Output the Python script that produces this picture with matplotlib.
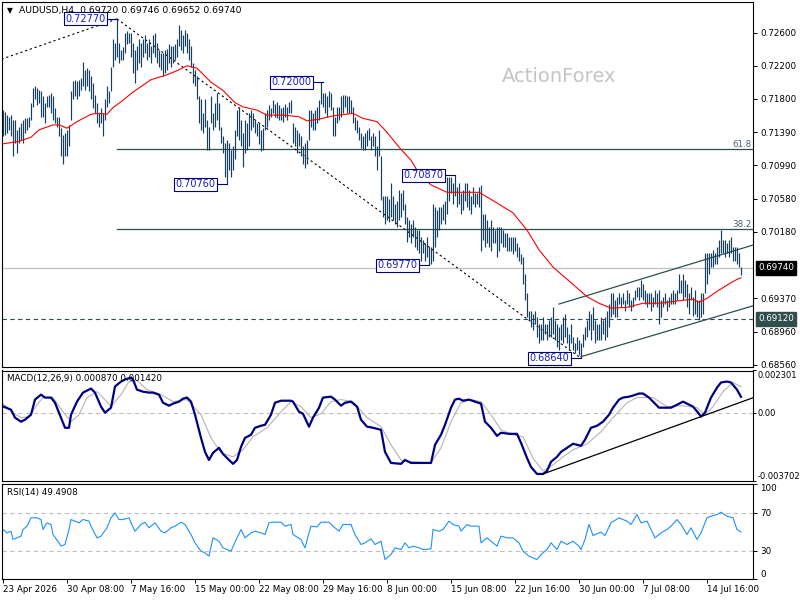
import matplotlib
matplotlib.use("Agg")
import matplotlib.pyplot as plt
import matplotlib.transforms as mtransforms
import numpy as np

plt.rcParams["font.family"] = ["DejaVu Sans"]
plt.rcParams["axes.unicode_minus"] = False

SYMBOL = "AUDUSD,H4"
LAST_OHLC = "0.69720 0.69746 0.69652 0.69740"

# H4 bar highs / lows, in price points (1 point = 0.0001)
BAR_HIGH = [
    7166, 7164, 7160, 7158, 7160, 7154, 7154, 7142, 7146, 7150, 7154, 7156, 7156, 7158, 7175, 7193,
    7195, 7193, 7191, 7189, 7183, 7175, 7183, 7185, 7187, 7183, 7168, 7158, 7158, 7144, 7136, 7138,
    7142, 7148, 7189, 7201, 7203, 7201, 7203, 7205, 7225, 7215, 7217, 7215, 7207, 7199, 7185, 7175,
    7162, 7168, 7162, 7179, 7195, 7189, 7219, 7252, 7248, 7277, 7248, 7239, 7243, 7260, 7262, 7260,
    7260, 7248, 7239, 7244, 7252, 7248, 7252, 7258, 7248, 7252, 7244, 7258, 7260, 7248, 7239, 7235,
    7235, 7239, 7241, 7246, 7244, 7244, 7246, 7252, 7270, 7264, 7258, 7264, 7260, 7252, 7244, 7223,
    7215, 7207, 7183, 7179, 7162, 7179, 7154, 7146, 7183, 7162, 7175, 7187, 7175, 7146, 7134, 7126,
    7130, 7126, 7118, 7122, 7142, 7166, 7170, 7154, 7138, 7154, 7150, 7162, 7166, 7162, 7154, 7150,
    7150,
    7142, 7144, 7162, 7166, 7172, 7168, 7178, 7174, 7176, 7172, 7168, 7170, 7174, 7170, 7176, 7178,
    7150, 7146, 7142, 7138, 7134, 7122, 7126, 7130, 7166, 7166, 7162, 7166, 7170, 7178, 7200, 7187,
    7187, 7183, 7189, 7187, 7170, 7158, 7170, 7170, 7183, 7185, 7185, 7183, 7183, 7178, 7170, 7158,
    7154, 7146, 7138, 7134, 7138, 7142, 7144, 7134, 7138, 7134, 7122, 7142, 7110, 7061, 7061, 7061,
    7058,
    7077, 7061, 7052, 7056, 7069, 7065, 7069, 7052, 7036, 7032, 7028, 7032, 7024, 7020, 7020, 7012,
    7008, 7004, 7012, 7000, 7000, 7052, 7048, 7044, 7048, 7048, 7052, 7056, 7085, 7085, 7085, 7077,
    7087, 7073, 7077, 7065, 7069, 7077, 7077, 7069, 7061, 7073, 7065, 7065, 7073, 7075,
    7040, 7040, 7032, 7024, 7032, 7024, 7020, 7024, 7024, 7024, 7020, 7016, 7016, 7012, 7012, 7012,
    7012, 7004, 6999, 6991, 6987, 6967, 6943, 6922, 6922, 6918, 6922, 6914, 6906, 6906, 6914, 6906,
    6906, 6910, 6914, 6926, 6910, 6906, 6902, 6906, 6914, 6918, 6902, 6894, 6906, 6890, 6882, 6890,
    6886, 6882, 6894, 6902, 6910, 6922, 6918, 6926, 6910, 6906, 6906, 6914, 6910, 6914, 6922, 6930,
    6943, 6943, 6935, 6939, 6943, 6939, 6943, 6935, 6947, 6943, 6935, 6939, 6947, 6951, 6951, 6959,
    6955, 6947, 6943, 6943, 6943, 6939, 6947, 6943, 6947, 6935, 6939, 6943, 6935, 6939, 6943, 6947,
    6943, 6947, 6967, 6959,
    6967, 6959, 6955, 6943, 6951, 6939, 6947, 6935, 6935, 6943, 6943, 6992, 6992, 6992, 6992, 6996,
    6992, 7000, 7008, 7020, 7008, 7008, 7004, 7008, 7012, 7000, 7000, 7000, 6992, 6975,
]
BAR_LOW = [
    7134, 7136, 7138, 7142, 7134, 7110, 7126, 7114, 7126, 7130, 7126, 7138, 7142, 7146, 7154, 7170,
    7179, 7172, 7175, 7158, 7158, 7150, 7170, 7170, 7162, 7154, 7150, 7146, 7134, 7110, 7101, 7110,
    7110, 7122, 7154, 7179, 7183, 7179, 7183, 7191, 7195, 7191, 7195, 7189, 7179, 7168, 7162, 7150,
    7146, 7150, 7134, 7154, 7170, 7175, 7189, 7219, 7227, 7231, 7223, 7227, 7227, 7235, 7246, 7248,
    7231, 7211, 7199, 7215, 7223, 7219, 7231, 7235, 7227, 7231, 7223, 7235, 7231, 7223, 7219, 7215,
    7207, 7211, 7215, 7223, 7219, 7223, 7227, 7231, 7244, 7239, 7235, 7244, 7235, 7227, 7219, 7199,
    7195, 7179, 7150, 7142, 7138, 7146, 7118, 7118, 7150, 7142, 7146, 7154, 7142, 7126, 7114, 7085,
    7076, 7093, 7085, 7093, 7106, 7134, 7130, 7122, 7097, 7114, 7118, 7122, 7142, 7146, 7138, 7134,
    7125,
    7116, 7118, 7142, 7146, 7154, 7158, 7162, 7158, 7156, 7154, 7154, 7152, 7158, 7154, 7162, 7162,
    7126, 7122, 7114, 7122, 7110, 7101, 7095, 7101, 7130, 7146, 7142, 7142, 7150, 7154, 7174, 7170,
    7162, 7158, 7170, 7166, 7134, 7134, 7150, 7154, 7158, 7162, 7170, 7162, 7162, 7162, 7150, 7142,
    7138, 7130, 7120, 7118, 7118, 7122, 7130, 7118, 7122, 7110, 7093, 7110, 7057, 7036, 7028, 7032,
    7030,
    7036, 7032, 7028, 7024, 7032, 7036, 7044, 7028, 7006, 7012, 7004, 7012, 7000, 6996, 6992, 6983,
    6992, 6983, 6987, 6977, 6979, 6983, 7000, 7012, 7020, 7028, 7032, 7028, 7040, 7056, 7065, 7052,
    7061, 7048, 7052, 7040, 7044, 7056, 7048, 7044, 7040, 7052, 7048, 7052, 7048, 6994,
    7008, 6999, 7004, 6999, 6995, 7004, 7004, 6987, 6995, 7004, 6999, 6999, 6995, 6995, 6995, 6991,
    6995, 6987, 6983, 6979, 6955, 6935, 6914, 6910, 6902, 6898, 6906, 6890, 6882, 6886, 6886, 6894,
    6886, 6890, 6890, 6894, 6886, 6878, 6874, 6886, 6882, 6890, 6882, 6874, 6882, 6874, 6870, 6874,
    6868, 6864, 6878, 6886, 6890, 6898, 6886, 6898, 6882, 6886, 6886, 6886, 6894, 6886, 6890, 6902,
    6914, 6918, 6914, 6914, 6930, 6926, 6930, 6922, 6930, 6926, 6922, 6926, 6935, 6939, 6935, 6939,
    6935, 6930, 6926, 6930, 6922, 6926, 6930, 6926, 6906, 6914, 6926, 6930, 6922, 6926, 6930, 6930,
    6930, 6935, 6943, 6943,
    6935, 6939, 6927, 6918, 6935, 6916, 6918, 6914, 6910, 6914, 6918, 6943, 6955, 6967, 6975, 6975,
    6979, 6979, 6987, 6992, 6992, 6987, 6992, 6987, 6992, 6983, 6983, 6979, 6975, 6965,
]

# red moving average, read at bar positions (points)
MA_IDX = [0, 8, 14, 18, 25, 28, 32, 37, 44, 48, 52, 55, 60, 65, 74, 82, 87, 92, 97, 104,
          110, 116, 120, 127, 132, 140, 148, 152, 158, 165, 175, 180, 187, 192, 198, 204, 208, 214, 222, 238,
          247, 255, 262, 268, 275, 284, 292, 298, 304, 312, 320, 328, 338, 345, 348, 352, 358, 364, 367, 369]
MA_PTS = [7125, 7128, 7133, 7142, 7148, 7148, 7144, 7152, 7161, 7162, 7161, 7169, 7178, 7188, 7203, 7209, 7214, 7220, 7217, 7200,
          7190, 7175, 7170, 7166, 7160, 7160, 7158, 7153, 7155, 7159, 7162, 7156, 7152, 7139, 7121, 7105, 7089, 7075, 7066, 7066,
          7053, 7041, 7020, 6996, 6975, 6956, 6939, 6931, 6925, 6926, 6931, 6931, 6934, 6936, 6932, 6937, 6947, 6956, 6960, 6962]

# MACD main line, units of 1e-4
MACD_IDX = [0, 4, 6, 9, 11, 14, 16, 19, 21, 24, 26, 29, 31, 33, 34, 37, 40, 44, 46, 49, 51, 54, 56, 59, 61, 64, 65, 67,
            70, 73, 75, 78, 80, 83, 85, 88, 90, 92, 94, 96, 99, 101, 103, 105, 108, 110, 113, 115, 117, 119, 121, 124,
            126, 129, 131, 134, 136, 139, 144, 145, 148, 150, 153, 155, 158, 160, 164, 166, 169, 171, 174, 177, 179,
            182, 185, 189, 191, 194, 199, 201, 204, 209, 212, 214, 216, 219, 221, 224, 226, 228, 230, 233, 236, 239,
            241, 244, 247, 249, 253, 257, 259, 262, 264, 267, 270, 272, 274, 277, 279, 282, 285, 289, 291, 294, 297,
            300, 303, 305, 308, 310, 313, 315, 318, 320, 323, 325, 328, 330, 334, 337, 340, 342, 345, 348, 349, 351,
            354, 357, 359, 362, 364, 367, 369]
MACD_VAL = [3.5, 1.7, -2.6, -4.8, -3.7, -1.0, 7.2, 9.9, 8.3, 8.3, 5.5, -2.6, -8.1, -8.1, -1.0, 6.1, 11.0, 13.2, 11.0,
            3.4, 0.1, 2.8, 14.3, 17.0, 18.1, 19.2, 18.1, 12.6, 11.5, 11.0, 11.0, 9.9, 5.5, 3.9, 5.0, 6.1, 7.7, 8.3,
            6.1, -1.0, -13.6, -21.2, -25.6, -21.7, -19.0, -22.3, -25.6, -27.7, -25.6, -18.5, -13.6, -11.9, -8.1,
            -7.0, -6.5, -1.0, 5.5, 6.6, 6.6, 6.1, 0.6, -0.5, -7.5, -2.6, 2.8, 8.3, 8.8, 7.2, 3.9, 5.5, 6.1, 3.4,
            -3.7, -7.5, -8.1, -9.2, -21.2, -27.2, -27.7, -25.6, -27.2, -27.2, -27.2, -27.2, -17.4, -11.9, -6.5,
            2.8, 7.2, 7.7, 6.6, 7.2, 6.1, 5.0, -4.8, -8.1, -12.5, -10.8, -11.4, -11.4, -16.3, -24.5, -29.4, -33.2,
            -33.2, -31.6, -26.6, -23.9, -21.2, -19.0, -16.8, -17.9, -14.6, -8.1, -7.0, -4.8, -1.0, 2.8, 7.2, 8.3,
            8.8, 9.4, 10.5, 10.5, 8.3, 6.1, 2.8, 2.8, 2.8, 4.4, 6.1, 5.0, 3.4, -0.5, -2.1, 0.1, 8.3, 13.7, 16.5,
            17.0, 16.5, 12.6, 8.7]
SIGNAL_IDX = [0, 5, 9, 13, 17, 20, 25, 30, 34, 38, 42, 47, 50, 54, 59, 63, 67, 72, 79, 85, 92, 99, 104, 109, 115,
              120, 125, 132, 139, 144, 149, 154, 159, 164, 169, 175, 182, 189, 194, 199, 204, 214, 219, 224, 229,
              234, 239, 244, 249, 255, 260, 265, 270, 275, 280, 285, 292, 299, 305, 312, 317, 325, 332, 340, 347,
              351, 355, 360, 365, 369]
SIGNAL_VAL = [5.0, 0.1, -2.6, -2.1, 4.4, 8.3, 8.3, 0.6, -4.8, -1.0, 8.3, 11.5, 8.3, 3.4, 9.9, 17.0, 17.6, 12.6,
              9.9, 6.1, 7.2, -1.0, -13.6, -21.7, -23.9, -20.1, -13.0, -8.1, 0.6, 6.1, 3.4, -2.6, -0.5, 6.1, 7.2,
              6.1, -2.6, -7.5, -17.4, -25.6, -26.6, -27.2, -19.0, -4.8, 5.5, 7.2, 6.1, -1.0, -9.2, -11.9, -13.0,
              -24.5, -31.6, -28.3, -23.9, -20.1, -16.8, -10.3, -2.6, 5.5, 8.3, 8.3, 3.4, 3.9, 2.8, -1.0, 3.4,
              11.5, 16.5, 14.2]
MACD_MAX = 0.002301
MACD_MIN = -0.003702

RSI_IDX = [0, 2, 4, 5, 7, 9, 10, 12, 14, 17, 19, 20, 22, 24, 25, 28, 29, 31, 33, 34, 36, 38, 40, 43, 44, 47, 49,
           52, 54, 56, 58, 60, 63, 64, 66, 69, 71, 73, 76, 79, 81, 84, 86, 89, 91, 94, 96, 99, 101, 103, 105, 108,
           110, 114, 117, 119, 121, 124, 126, 129, 131, 133, 135, 139, 141, 144, 145, 149, 151, 153, 154, 157, 159,
           163, 165, 168, 170, 174, 176, 179, 181, 184, 186, 189, 191, 194, 196, 199, 201, 203, 205, 208, 210, 214,
           215, 218, 220, 223, 225, 228, 229, 232, 234, 238, 239, 242, 244, 247, 249, 252, 255, 258, 260, 263, 265,
           267, 269, 272, 274, 277, 279, 282, 285, 288, 289, 291, 293, 295, 299, 301, 304, 308, 312, 314, 317, 319,
           322, 324, 326, 329, 332, 334, 337, 339, 342, 344, 347, 349, 352, 354, 357, 359, 362, 365, 367, 369]
RSI_VAL = [52.1, 48.6, 50.3, 41.6, 43.3, 45.1, 52.1, 55.6, 64.4, 64.4, 62.6, 52.1, 59.1, 57.4, 46.8, 38.1, 34.6,
           36.3, 52.1, 62.6, 60.9, 59.1, 62.6, 60.9, 55.6, 43.3, 45.1, 53.9, 64.4, 69.6, 62.6, 62.6, 64.4, 59.1,
           50.3, 57.4, 59.8, 53.9, 59.1, 50.3, 48.6, 53.9, 55.6, 59.8, 57.4, 46.8, 38.1, 29.3, 27.5, 24.0, 43.3,
           39.8, 32.8, 29.3, 43.3, 52.1, 43.3, 48.6, 50.3, 48.6, 46.8, 59.1, 59.8, 59.8, 55.6, 57.4, 46.8, 41.6,
           32.8, 48.6, 55.6, 54.9, 59.8, 59.8, 55.6, 50.3, 57.4, 57.4, 46.8, 36.3, 38.1, 42.3, 36.3, 39.8, 20.5,
           25.8, 32.8, 31.0, 38.1, 32.8, 34.6, 32.8, 31.0, 31.7, 52.1, 50.3, 52.1, 60.9, 57.4, 55.6, 50.3, 57.4,
           55.6, 55.6, 38.1, 43.3, 39.8, 34.6, 45.1, 43.3, 43.3, 38.1, 29.3, 24.0, 22.3, 20.5, 25.8, 31.0, 38.1,
           31.0, 39.8, 36.3, 39.8, 34.6, 31.0, 41.6, 57.4, 45.8, 49.3, 45.8, 59.1, 64.4, 60.9, 57.4, 67.9, 59.1,
           60.9, 52.1, 43.3, 48.6, 52.1, 55.6, 62.6, 57.4, 46.8, 53.9, 41.6, 48.6, 64.4, 66.1, 67.9, 70.3, 66.1,
           64.4, 52.1, 49.5]

PRICE_TICKS = [0.72600, 0.72200, 0.71800, 0.71390, 0.70990, 0.70580, 0.70180, 0.69370, 0.68960, 0.68560]
DATE_LABELS = ["23 Apr 2026", "30 Apr 08:00", "7 May 16:00", "15 May 00:00", "22 May 08:00", "29 May 16:00",
               "8 Jun 00:00", "15 Jun 08:00", "22 Jun 16:00", "30 Jun 00:00", "7 Jul 08:00", "14 Jul 16:00"]
DATE_STEP = 32

# swing labels: text, bar index, price
SWINGS = [("0.72770", 57, 0.72770), ("0.72000", 160, 0.72000), ("0.70760", 112, 0.70760),
          ("0.70870", 226, 0.70870), ("0.69770", 213, 0.69770), ("0.68640", 289, 0.68640)]
SWING_HIGH = (57, 0.72770)
SWING_LOW = (289, 0.68640)
PRE_TREND_START = (-0.75, 0.72280)
FIB_LEVELS = [("61.8", 0.71192), ("38.2", 0.70218)]
CHANNEL_UP = [(278, 0.69300), (375.25, 0.70020)]
CHANNEL_DN = [(289, 0.68660), (375.25, 0.69280)]
MACD_TREND = [(270, -0.00332), (375.25, 0.00083)]
LAST_PRICE = 0.69740
SUPPORT = 0.69120

X_MIN, X_MAX = -0.75, 375.25
FS = 6.3
BAR_COLOR = "#16405e"
SLATE = "#2f4f4f"

W, H = 800, 600


def px_rect(x0, y0, x1, y1):
    return [x0 / W, 1 - y1 / H, (x1 - x0) / W, (y1 - y0) / H]


def style_axis(ax):
    ax.set_xlim(X_MIN, X_MAX)
    for spine in ax.spines.values():
        spine.set_color("black")
        spine.set_linewidth(0.8)
    ax.yaxis.tick_right()
    ax.tick_params(axis="x", bottom=False, labelbottom=False)
    ax.tick_params(axis="y", direction="out", length=3, width=0.7, labelsize=FS, pad=2, left=False, right=True)


def right_box(ax, price, text, face):
    trans = mtransforms.blended_transform_factory(ax.transAxes, ax.transData)
    ax.text(1.006, price, text, transform=trans, ha="left", va="center", fontsize=FS, color="white",
            bbox=dict(boxstyle="square,pad=0.25", facecolor=face, edgecolor=face), clip_on=False, zorder=6)


fig = plt.figure(figsize=(8, 6), dpi=100)
fig.patch.set_facecolor("white")
ax_p = fig.add_axes(px_rect(1.5, 2, 753.5, 367))
ax_m = fig.add_axes(px_rect(1.5, 370.5, 753.5, 481))
ax_r = fig.add_axes(px_rect(1.5, 484, 753.5, 579))
for ax in (ax_p, ax_m, ax_r):
    style_axis(ax)

# ---- price panel
idx = np.arange(len(BAR_HIGH))
highs = np.array(BAR_HIGH) / 10000
lows = np.array(BAR_LOW) / 10000
ax_p.set_ylim(0.68534, 0.72976)
ax_p.set_yticks(PRICE_TICKS)
ax_p.set_yticklabels([f"{v:.5f}" for v in PRICE_TICKS])

ax_p.axhline(LAST_PRICE, color="#c0c0c0", lw=0.9, zorder=1)
ax_p.axhline(SUPPORT, color=SLATE, lw=0.8, ls=(0, (4, 3)), zorder=1)
for name, level in FIB_LEVELS:
    ax_p.plot([SWING_HIGH[0], X_MAX], [level, level], color=SLATE, lw=0.9, zorder=1)
    ax_p.text(X_MAX - 1, level, name, ha="right", va="bottom", fontsize=FS, color="#4c5f70")

ax_p.plot([PRE_TREND_START[0], SWING_HIGH[0]], [PRE_TREND_START[1], SWING_HIGH[1]],
          color="black", lw=0.8, ls=(0, (2, 2.5)), zorder=2)
ax_p.plot([SWING_HIGH[0], SWING_LOW[0]], [SWING_HIGH[1], SWING_LOW[1]],
          color="black", lw=0.8, ls=(0, (2, 2.5)), zorder=2)
for pts in (CHANNEL_UP, CHANNEL_DN):
    ax_p.plot([p[0] for p in pts], [p[1] for p in pts], color=SLATE, lw=0.9, zorder=2)

ax_p.vlines(idx, lows, highs, colors=BAR_COLOR, linewidth=0.85, zorder=3)
ax_p.plot(MA_IDX, np.array(MA_PTS) / 10000, color="#ff0000", lw=0.8, zorder=4)

for text, bar, price in SWINGS:
    ax_p.plot([bar - 5, bar], [price, price], color="#000080", lw=0.8, zorder=5)
    ax_p.text(bar - 5.8, price, text, ha="right", va="center", fontsize=7, color="#1a1ac8", zorder=6,
              bbox=dict(boxstyle="square,pad=0.15", facecolor="white", edgecolor="#000080", linewidth=0.8))

right_box(ax_p, LAST_PRICE, f"{LAST_PRICE:.5f}", "black")
right_box(ax_p, SUPPORT, f"{SUPPORT:.5f}", SLATE)

fig.text(7 / W, 1 - 10.5 / H, "\u25bc", fontsize=5.5, va="center")
fig.text(19 / W, 1 - 10.5 / H, f"{SYMBOL}  {LAST_OHLC}", fontsize=FS + 0.4, va="center")
fig.text(559 / W, 1 - 77 / H, "ActionForex", fontsize=14, color="#c4c4c4", ha="center", va="center")

# ---- MACD panel
ax_m.set_ylim(MACD_MIN, MACD_MAX)
ax_m.axhline(0, color="#c0c0c0", lw=0.8, ls=(0, (4, 3)))
ax_m.plot(SIGNAL_IDX, np.array(SIGNAL_VAL) * 1e-4, color="#b4b4b4", lw=0.8)
ax_m.plot(MACD_IDX, np.array(MACD_VAL) * 1e-4, color="#000080", lw=1.6)
ax_m.plot([p[0] for p in MACD_TREND], [p[1] for p in MACD_TREND], color="black", lw=0.9)
ax_m.set_yticks([MACD_MAX, 0.0, MACD_MIN])
ax_m.set_yticklabels([f"{MACD_MAX:.6f}", "0.00", f"{MACD_MIN:.6f}"])
ax_m.tick_params(axis="y", length=2, pad=1, labelsize=FS - 0.3)
ticks = ax_m.yaxis.get_major_ticks()
ticks[0].label2.set_va("top")
ticks[2].label2.set_va("bottom")
fig.text(7 / W, 1 - 378.5 / H, f"MACD(12,26,9) {MACD_VAL[-1] * 1e-4:.6f} {SIGNAL_VAL[-1] * 1e-4:.6f}",
         fontsize=FS, va="center")

# ---- RSI panel
ax_r.set_ylim(0, 100)
for lvl in (70, 30):
    ax_r.axhline(lvl, color="#c0c0c0", lw=0.8, ls=(0, (4, 3)))
ax_r.plot(RSI_IDX, RSI_VAL, color="#1e90ff", lw=0.8)
ax_r.set_yticks([100, 70, 30, 0])
ax_r.set_yticklabels(["100", "70", "30", "0"])
ticks = ax_r.yaxis.get_major_ticks()
ticks[0].label2.set_va("top")
ticks[3].label2.set_va("bottom")
fig.text(7 / W, 1 - 492 / H, "RSI(14) 49.4908", fontsize=FS, va="center")

ax_r.set_xticks(np.arange(len(DATE_LABELS)) * DATE_STEP)
ax_r.set_xticklabels(DATE_LABELS)
ax_r.tick_params(axis="x", bottom=True, labelbottom=True, direction="out", length=3, width=0.7,
                 labelsize=FS, pad=1.5)
for lab in ax_r.get_xticklabels():
    lab.set_ha("left")

fig.savefig("out.png", dpi=100)
